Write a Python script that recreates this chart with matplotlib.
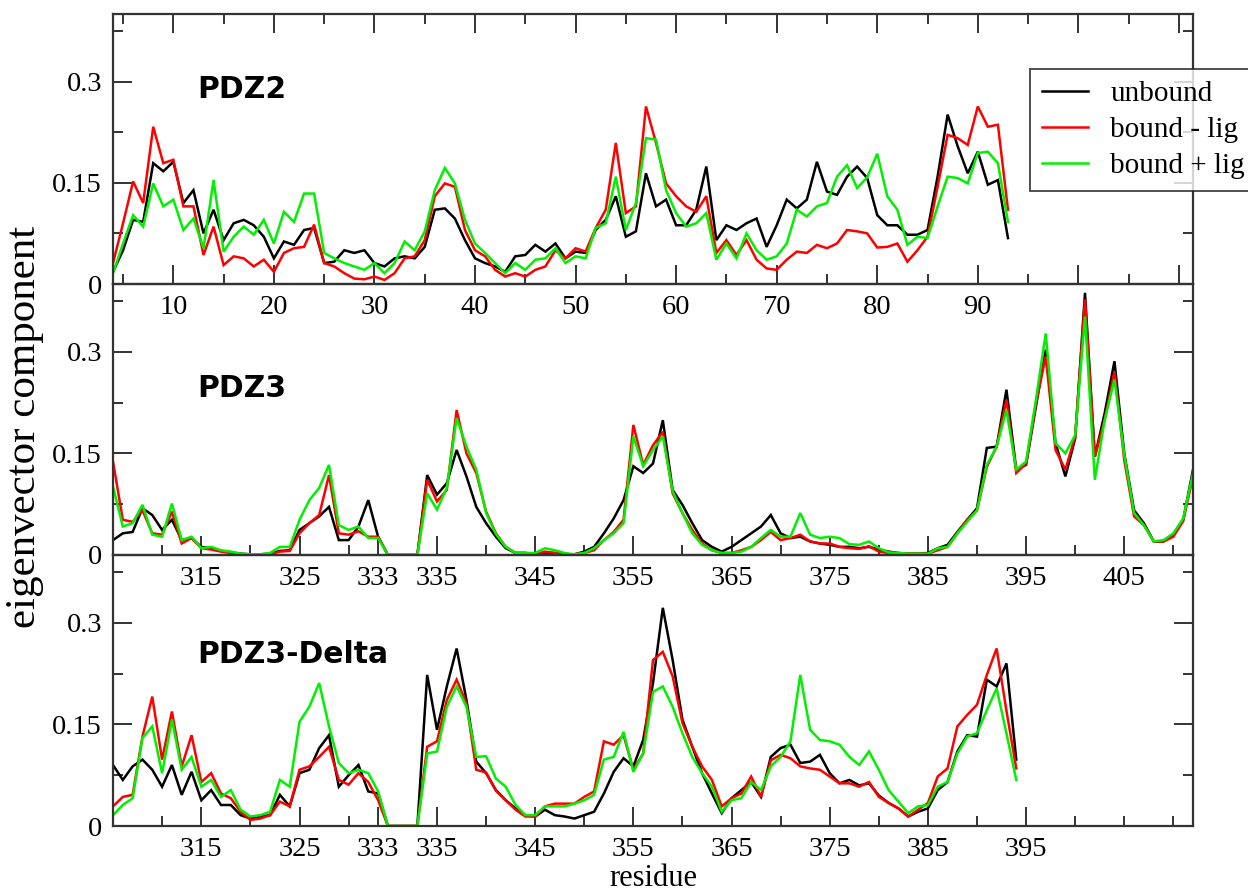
import matplotlib
matplotlib.use("Agg")
import matplotlib.pyplot as plt
from matplotlib.ticker import FixedLocator, FixedFormatter

plt.rcParams['font.family'] = ['Liberation Serif', 'DejaVu Serif']

# ---------------- data ----------------
# PDZ2: residues 4..93
pdz2_res = list(range(4, 94))
pdz2_unbound = [0.018, 0.05, 0.095, 0.092, 0.179, 0.167, 0.181, 0.12, 0.139, 0.075,
                0.11, 0.065, 0.09, 0.095, 0.087, 0.07, 0.038, 0.063, 0.058, 0.08,
                0.083, 0.031, 0.033, 0.05, 0.046, 0.05, 0.031, 0.026, 0.038, 0.041,
                0.038, 0.055, 0.11, 0.112, 0.097, 0.065, 0.038, 0.031, 0.026, 0.018,
                0.041, 0.043, 0.058, 0.048, 0.06, 0.038, 0.048, 0.046, 0.08, 0.095,
                0.13, 0.07, 0.078, 0.164, 0.115, 0.125, 0.087, 0.087, 0.11, 0.174,
                0.065, 0.087, 0.08, 0.09, 0.097, 0.055, 0.087, 0.125, 0.112, 0.125,
                0.181, 0.137, 0.132, 0.159, 0.174, 0.157, 0.102, 0.087, 0.087, 0.073,
                0.073, 0.08, 0.159, 0.251, 0.204, 0.164, 0.196, 0.147, 0.154, 0.068]
pdz2_bound_m = [0.031, 0.09, 0.152, 0.12, 0.233, 0.179, 0.184, 0.115, 0.115, 0.043,
                0.085, 0.028, 0.041, 0.038, 0.026, 0.036, 0.018, 0.046, 0.053, 0.055,
                0.088, 0.031, 0.026, 0.016, 0.008, 0.007, 0.011, 0.006, 0.016, 0.038,
                0.041, 0.065, 0.13, 0.149, 0.144, 0.08, 0.05, 0.041, 0.021, 0.011,
                0.016, 0.011, 0.021, 0.026, 0.05, 0.038, 0.053, 0.048, 0.083, 0.11,
                0.209, 0.105, 0.115, 0.263, 0.209, 0.149, 0.13, 0.115, 0.107, 0.13,
                0.046, 0.065, 0.043, 0.065, 0.036, 0.023, 0.021, 0.036, 0.048, 0.046,
                0.058, 0.053, 0.06, 0.08, 0.078, 0.075, 0.054, 0.055, 0.06, 0.033,
                0.05, 0.07, 0.144, 0.221, 0.216, 0.206, 0.263, 0.233, 0.236, 0.11]
pdz2_bound_p = [0.016, 0.06, 0.102, 0.085, 0.149, 0.115, 0.125, 0.08, 0.097, 0.053,
                0.154, 0.048, 0.07, 0.085, 0.073, 0.095, 0.06, 0.107, 0.092, 0.134,
                0.134, 0.046, 0.038, 0.031, 0.026, 0.021, 0.031, 0.016, 0.031, 0.063,
                0.05, 0.078, 0.139, 0.172, 0.149, 0.095, 0.06, 0.046, 0.031, 0.016,
                0.031, 0.021, 0.036, 0.038, 0.053, 0.031, 0.041, 0.038, 0.083, 0.09,
                0.159, 0.08, 0.12, 0.216, 0.214, 0.139, 0.105, 0.085, 0.09, 0.105,
                0.036, 0.06, 0.038, 0.075, 0.05, 0.036, 0.041, 0.06, 0.11, 0.1,
                0.115, 0.12, 0.159, 0.176, 0.142, 0.158, 0.193, 0.13, 0.11, 0.058,
                0.07, 0.068, 0.115, 0.159, 0.157, 0.149, 0.194, 0.196, 0.179, 0.092]

# PDZ3: alignment positions 306..416 (positions 334-337 are the gap)
pdz3_pos = list(range(306, 417))
pdz3_unbound = [0.022, 0.032, 0.034, 0.069, 0.059, 0.037, 0.052, 0.022, 0.025, 0.012,
                0.01, 0.006, 0.004, 0.002, 0.001, 0.001, 0.002, 0.006, 0.007, 0.037,
                0.047, 0.057, 0.071, 0.022, 0.022, 0.042, 0.081, 0.027, 0.0, 0.0,
                0.0, 0.0, 0.118, 0.089, 0.106, 0.155, 0.116, 0.071, 0.047, 0.027,
                0.01, 0.003, 0.003, 0.001, 0.003, 0.003, 0.001, 0.001, 0.005, 0.012,
                0.032, 0.054, 0.081, 0.131, 0.121, 0.135, 0.199, 0.096, 0.074, 0.047,
                0.022, 0.012, 0.005, 0.012, 0.022, 0.032, 0.042, 0.059, 0.032, 0.025,
                0.027, 0.02, 0.017, 0.015, 0.012, 0.012, 0.01, 0.012, 0.008, 0.005,
                0.003, 0.002, 0.002, 0.003, 0.01, 0.015, 0.034, 0.052, 0.069, 0.158,
                0.16, 0.244, 0.126, 0.133, 0.219, 0.303, 0.165, 0.116, 0.172, 0.387,
                0.145, 0.209, 0.286, 0.15, 0.066, 0.047, 0.02, 0.02, 0.03, 0.052, 0.126]
pdz3_bound_m = [0.138, 0.052, 0.049, 0.066, 0.032, 0.03, 0.064, 0.017, 0.025, 0.01,
                0.008, 0.005, 0.003, 0.001, 0.001, 0.001, 0.001, 0.005, 0.006, 0.032,
                0.047, 0.059, 0.118, 0.032, 0.03, 0.035, 0.027, 0.027, 0.0, 0.0,
                0.0, 0.0, 0.111, 0.079, 0.096, 0.214, 0.15, 0.121, 0.064, 0.032,
                0.012, 0.003, 0.003, 0.001, 0.005, 0.003, 0.001, 0.001, 0.003, 0.007,
                0.022, 0.034, 0.052, 0.192, 0.133, 0.162, 0.182, 0.091, 0.062, 0.037,
                0.017, 0.007, 0.003, 0.003, 0.007, 0.012, 0.022, 0.034, 0.022, 0.025,
                0.03, 0.02, 0.017, 0.017, 0.012, 0.01, 0.009, 0.013, 0.005, 0.003,
                0.002, 0.002, 0.002, 0.002, 0.007, 0.012, 0.032, 0.052, 0.066, 0.13,
                0.16, 0.229, 0.121, 0.135, 0.224, 0.293, 0.155, 0.126, 0.175, 0.377,
                0.145, 0.199, 0.271, 0.14, 0.057, 0.044, 0.02, 0.02, 0.027, 0.05, 0.116]
pdz3_bound_p = [0.101, 0.042, 0.047, 0.074, 0.03, 0.027, 0.076, 0.022, 0.027, 0.01,
                0.012, 0.007, 0.005, 0.002, 0.001, 0.001, 0.003, 0.012, 0.012, 0.052,
                0.081, 0.099, 0.133, 0.044, 0.037, 0.042, 0.025, 0.025, 0.0, 0.0,
                0.0, 0.0, 0.091, 0.067, 0.099, 0.202, 0.16, 0.126, 0.062, 0.031,
                0.012, 0.003, 0.003, 0.003, 0.01, 0.007, 0.003, 0.001, 0.003, 0.01,
                0.022, 0.032, 0.047, 0.175, 0.131, 0.155, 0.175, 0.094, 0.062, 0.032,
                0.015, 0.007, 0.003, 0.003, 0.005, 0.012, 0.025, 0.037, 0.027, 0.027,
                0.062, 0.03, 0.025, 0.027, 0.025, 0.016, 0.015, 0.02, 0.01, 0.004,
                0.003, 0.002, 0.002, 0.002, 0.01, 0.012, 0.032, 0.049, 0.066, 0.133,
                0.16, 0.214, 0.126, 0.138, 0.229, 0.327, 0.165, 0.15, 0.177, 0.352,
                0.111, 0.199, 0.259, 0.148, 0.062, 0.044, 0.02, 0.022, 0.032, 0.054, 0.121]

# PDZ3-Delta: alignment positions 306..398
delta_pos = list(range(306, 399))
delta_unbound = [0.09, 0.068, 0.088, 0.098, 0.083, 0.058, 0.09, 0.046, 0.08, 0.038,
                 0.053, 0.031, 0.031, 0.016, 0.011, 0.014, 0.016, 0.046, 0.029, 0.078,
                 0.083, 0.115, 0.134, 0.058, 0.075, 0.09, 0.051, 0.048, 0.0, 0.0,
                 0.0, 0.0, 0.223, 0.142, 0.206, 0.262, 0.186, 0.095, 0.078, 0.053,
                 0.038, 0.026, 0.016, 0.014, 0.024, 0.016, 0.014, 0.011, 0.016, 0.021,
                 0.048, 0.08, 0.1, 0.088, 0.127, 0.211, 0.322, 0.245, 0.157, 0.117,
                 0.078, 0.048, 0.019, 0.041, 0.053, 0.065, 0.043, 0.102, 0.115, 0.12,
                 0.093, 0.095, 0.105, 0.078, 0.063, 0.068, 0.06, 0.063, 0.045, 0.034,
                 0.026, 0.014, 0.021, 0.026, 0.053, 0.065, 0.11, 0.134, 0.132, 0.216,
                 0.206, 0.24, 0.098]
delta_bound_m = [0.029, 0.043, 0.046, 0.132, 0.191, 0.098, 0.169, 0.088, 0.134, 0.065,
                 0.078, 0.048, 0.041, 0.021, 0.009, 0.011, 0.016, 0.036, 0.029, 0.083,
                 0.088, 0.102, 0.117, 0.068, 0.061, 0.078, 0.065, 0.038, 0.0, 0.0,
                 0.0, 0.0, 0.117, 0.125, 0.186, 0.216, 0.181, 0.083, 0.079, 0.052,
                 0.038, 0.024, 0.014, 0.014, 0.029, 0.033, 0.033, 0.033, 0.043, 0.051,
                 0.125, 0.12, 0.134, 0.083, 0.107, 0.245, 0.257, 0.221, 0.152, 0.117,
                 0.088, 0.068, 0.029, 0.041, 0.048, 0.073, 0.043, 0.097, 0.105, 0.1,
                 0.088, 0.085, 0.083, 0.073, 0.063, 0.063, 0.058, 0.065, 0.043, 0.034,
                 0.026, 0.014, 0.024, 0.034, 0.073, 0.085, 0.147, 0.164, 0.179, 0.223,
                 0.262, 0.17, 0.085]
delta_bound_p = [0.016, 0.031, 0.041, 0.13, 0.147, 0.078, 0.157, 0.083, 0.102, 0.058,
                 0.068, 0.043, 0.053, 0.024, 0.014, 0.016, 0.021, 0.068, 0.058, 0.154,
                 0.176, 0.211, 0.147, 0.093, 0.078, 0.083, 0.078, 0.051, 0.0, 0.0,
                 0.0, 0.0, 0.107, 0.11, 0.176, 0.206, 0.176, 0.102, 0.103, 0.07,
                 0.058, 0.031, 0.016, 0.016, 0.029, 0.029, 0.029, 0.033, 0.038, 0.046,
                 0.098, 0.102, 0.139, 0.08, 0.107, 0.198, 0.206, 0.176, 0.137, 0.102,
                 0.078, 0.058, 0.021, 0.038, 0.041, 0.065, 0.053, 0.088, 0.102, 0.125,
                 0.223, 0.142, 0.127, 0.125, 0.12, 0.102, 0.09, 0.11, 0.083, 0.053,
                 0.036, 0.019, 0.029, 0.031, 0.058, 0.065, 0.107, 0.132, 0.137, 0.171,
                 0.203, 0.137, 0.068]

series_names = ['unbound', 'bound - lig', 'bound + lig']
series_colors = ['#000000', '#ff0000', '#00f000']

# tick definitions
pdz2_major = list(range(10, 111, 10))
pdz2_major_labels = ['10', '20', '30', '40', '50', '60', '70', '80', '90', '', '']
pdz2_minor = list(range(5, 111, 10))

pdz3_major = [315, 325, 333, 339, 349, 359, 369, 379, 389, 399, 409]
pdz3_major_labels = ['315', '325', '333', '335', '345', '355', '365', '375', '385', '395', '405']
pdz3_minor = [311, 320, 330, 344, 354, 364, 374, 384, 394, 404, 414]

delta_major = [315, 325, 333, 339, 349, 359, 369, 379, 389, 399]
delta_major_labels = ['315', '325', '333', '335', '345', '355', '365', '375', '385', '395']
delta_minor = [311, 320, 330, 344, 354, 364, 374, 384, 394, 404, 409, 414]

y_major = [0, 0.15, 0.3]
y_major_labels = ['0', '0.15', '0.3']
y_minor = [0.075, 0.225, 0.375]

# ---------------- figure ----------------
W, H = 1248, 894
fig = plt.figure(figsize=(W / 100, H / 100), dpi=100)
fig.patch.set_facecolor('white')

def rect(top_px, bot_px, left_px=113, right_px=1193):
    return [left_px / W, 1 - bot_px / H, (right_px - left_px) / W, (bot_px - top_px) / H]

ax1 = fig.add_axes(rect(14, 284))
ax2 = fig.add_axes(rect(284, 555))
ax3 = fig.add_axes(rect(555, 826))

panels = [
    (ax1, pdz2_res, [pdz2_unbound, pdz2_bound_m, pdz2_bound_p], (4, 111.4),
     pdz2_major, pdz2_major_labels, pdz2_minor, 'PDZ2', 0.689),
    (ax2, pdz3_pos, [pdz3_unbound, pdz3_bound_m, pdz3_bound_p], (306, 416),
     pdz3_major, pdz3_major_labels, pdz3_minor, 'PDZ3', 0.584),
    (ax3, delta_pos, [delta_unbound, delta_bound_m, delta_bound_p], (306, 416),
     delta_major, delta_major_labels, delta_minor, 'PDZ3-Delta', 0.600),
]

frame_col = '#333333'
for i, (ax, xs, ys_list, xlim, maj, majlab, mnr, title, ty) in enumerate(panels):
    ax.set_facecolor('none')
    for ys, name, col in zip(ys_list, series_names, series_colors):
        ax.plot(xs, ys, color=col, lw=1.8, label=name, solid_joinstyle='miter')
    ax.set_xlim(*xlim)
    ax.set_ylim(0, 0.4)
    ax.xaxis.set_major_locator(FixedLocator(maj))
    ax.xaxis.set_major_formatter(FixedFormatter(majlab))
    ax.xaxis.set_minor_locator(FixedLocator(mnr))
    ax.yaxis.set_major_locator(FixedLocator(y_major))
    ax.yaxis.set_major_formatter(FixedFormatter(y_major_labels))
    ax.yaxis.set_minor_locator(FixedLocator(y_minor))
    ax.tick_params(which='both', direction='in', left=True, right=True,
                   bottom=True, top=(i == 0), colors=frame_col, labelcolor='black',
                   width=1.4, labelsize=20.5)
    ax.tick_params(which='major', length=14, pad=8)
    ax.tick_params(which='minor', length=7)
    for sp in ax.spines.values():
        sp.set_color(frame_col)
        sp.set_linewidth(1.6)
    ax.text(0.078, ty, title, transform=ax.transAxes, fontsize=21.5,
            fontweight='bold', family='DejaVu Sans', va='baseline', ha='left')

ax1.set_zorder(3)
ax2.set_zorder(2)
ax3.set_zorder(1)

leg = ax1.legend(loc='upper left', bbox_to_anchor=(1030 / W, 1 - 69 / H),
                 bbox_transform=fig.transFigure, fontsize=21, frameon=True,
                 fancybox=False, borderpad=0.4, labelspacing=0.33,
                 handlelength=1.6, handletextpad=0.75, borderaxespad=0)
leg.get_frame().set_edgecolor('#222222')
leg.get_frame().set_linewidth(1.4)
for line in leg.get_lines():
    line.set_linewidth(1.8)

fig.text(25 / W, 1 - 427 / H, 'eigenvector component', rotation=90, fontsize=31,
         ha='center', va='center')
fig.text(653 / W, 1 / H, 'residue', fontsize=22, ha='center', va='bottom')

fig.savefig('out.png', dpi=100)
